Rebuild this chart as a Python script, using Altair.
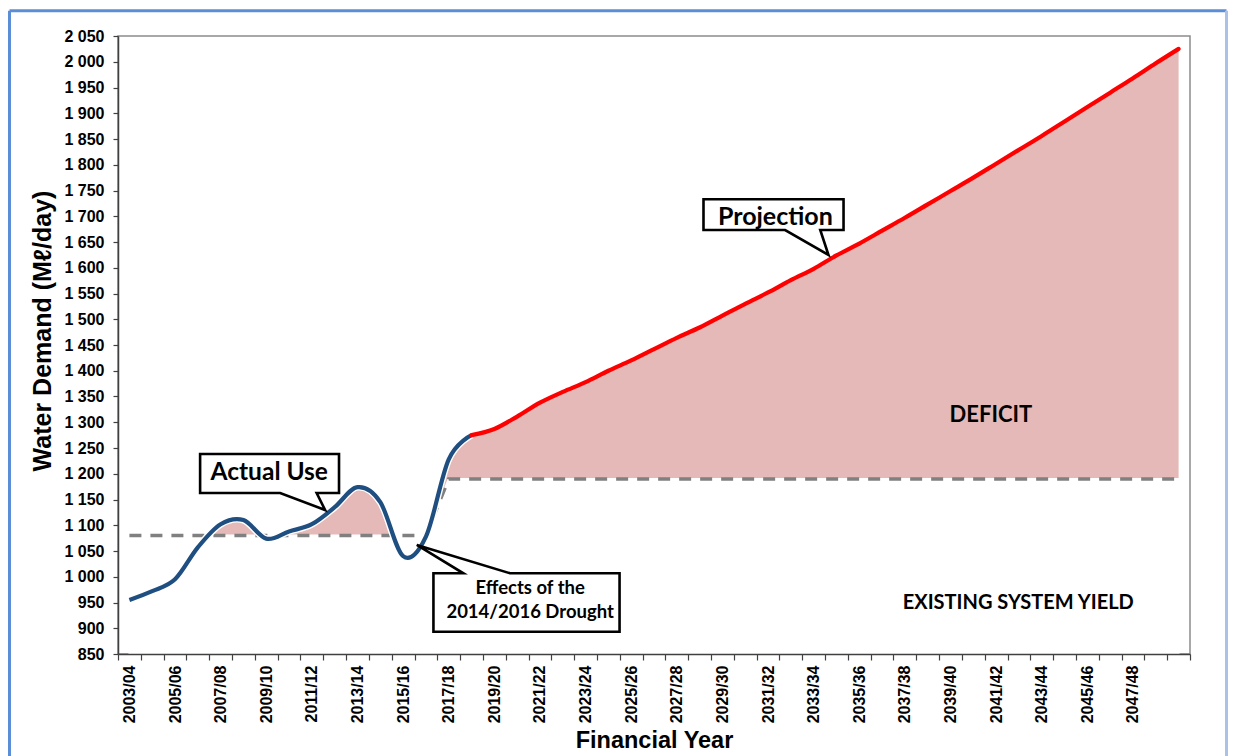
import altair as alt
import pandas as pd

# ---------------- data ----------------
financial_years = [
    "2003/04", "2004/05", "2005/06", "2006/07", "2007/08", "2008/09", "2009/10", "2010/11",
    "2011/12", "2012/13", "2013/14", "2014/15", "2015/16", "2016/17", "2017/18", "2018/19",
    "2019/20", "2020/21", "2021/22", "2022/23", "2023/24", "2024/25", "2025/26", "2026/27",
    "2027/28", "2028/29", "2029/30", "2030/31", "2031/32", "2032/33", "2033/34", "2034/35",
    "2035/36", "2036/37", "2037/38", "2038/39", "2039/40", "2040/41", "2041/42", "2042/43",
    "2043/44", "2044/45", "2045/46", "2046/47", "2047/48", "2048/49", "2049/50",
]
# Actual use 2003/04 .. 2018/19
actual_use = [955, 972, 995, 1057, 1102, 1110, 1074, 1088, 1102, 1135, 1174, 1145,
              1040, 1078, 1228, 1275]
# Projection 2018/19 .. 2049/50
projection = [1275, 1287, 1311, 1338, 1359, 1378, 1400, 1420, 1442, 1464, 1484, 1507,
              1530, 1552, 1576, 1598, 1624, 1647, 1672, 1697, 1723, 1749, 1775, 1802,
              1829, 1856, 1884, 1912, 1940, 1968, 1997, 2025]
# Existing system yield 2003/04 .. 2049/50
system_yield = [1080, 1080, 1080, 1080, 1080, 1080, 1080, 1080, 1080, 1080, 1080, 1080,
                1080, 1080, 1190, 1190, 1190, 1190, 1190, 1190, 1190, 1190, 1190, 1190,
                1190, 1190, 1190, 1190, 1190, 1190, 1190, 1190, 1190, 1190, 1190, 1190,
                1190, 1190, 1190, 1190, 1190, 1190, 1190, 1190, 1190, 1190, 1190]
y_ticks = list(range(850, 2051, 50))

n_actual = len(actual_use)
demand = actual_use[:-1] + projection

actual_df = pd.DataFrame({"x": list(range(n_actual)), "v": actual_use})
proj_df = pd.DataFrame({"x": list(range(n_actual - 1, n_actual - 1 + len(projection))), "v": projection})
demand_df = pd.DataFrame({"x": list(range(len(demand))), "v": demand})
yield_df = pd.DataFrame({"x": list(range(len(system_yield))), "v": system_yield})

# ---------------- annotations (data coordinates) ----------------
callouts = {
    "actual": [(3.10, 1238.3), (9.19, 1238.3), (9.19, 1162.6), (8.21, 1162.6), (8.58, 1129.6),
               (6.61, 1162.6), (3.10, 1162.6), (3.10, 1238.3), (9.19, 1238.3)],
    "projection": [(25.17, 1732.9), (31.31, 1732.9), (31.31, 1673.3), (30.29, 1673.3),
                   (30.65, 1624.8), (28.75, 1673.3), (25.17, 1673.3), (25.17, 1732.9),
                   (31.31, 1732.9)],
    "drought": [(13.33, 1006.7), (14.64, 1006.7), (12.60, 1061.7), (16.69, 1006.7),
                (21.49, 1006.7), (21.49, 893.3), (13.33, 893.3), (13.33, 1006.7),
                (14.64, 1006.7)],
}
boxes = [(3.10, 9.19, 1162.6, 1238.3), (25.17, 31.31, 1673.3, 1732.9), (13.33, 21.49, 893.3, 1006.7)]
labels = [
    ("Actual Use", 6.13, 1201.5, 24.5),
    ("Projection", 28.32, 1698.5, 25),
    ("Effects of the", 17.57, 977.6, 18.5),
    ("2014/2016 Drought", 17.57, 932.1, 18.5),
    ("DEFICIT", 37.77, 1314.0, 22),
    ("EXISTING SYSTEM YIELD", 38.97, 949.6, 20),
]

rows = []
for name, pts in callouts.items():
    for i, (px, pv) in enumerate(pts):
        rows.append({"c": name, "o": i, "x": px, "v": pv})
outline_df = pd.DataFrame(rows)
box_df = pd.DataFrame([{"x": a, "x2": b, "v": c, "v2": d} for a, b, c, d in boxes])
label_df = pd.DataFrame([{"t": t, "x": a, "v": b, "s": s} for t, a, b, s in labels])

# ---------------- scales / axes ----------------
FONT = "Liberation Sans"
label_array = "[" + ",".join("'" + s + "'" for s in financial_years) + "]"
x_values = [i * 0.5 - 0.5 for i in range(2 * len(financial_years) + 1)]

x_scale = alt.Scale(domain=[-0.5, len(financial_years) - 0.5], nice=False, zero=False)
y_scale = alt.Scale(domain=[850, 2050], nice=False, zero=False)

x_axis = alt.Axis(
    values=x_values,
    labelExpr=f"(datum.value % 2 == 0 && datum.value <= 44) ? {label_array}[datum.value] : ''",
    tickOpacity={"expr": "datum.value % 1 == 0 ? 0 : 1"},
    labelAngle=270, labelAlign="right", labelBaseline="middle",
    labelFont=FONT, labelFontSize=16, labelFontWeight="bold", labelColor="black",
    labelPadding=5, tickSize=6, tickColor="#404040", tickWidth=1.2,
    domainColor="#404040", domainWidth=1.5,
    labelOverlap=False, labelFlush=False, labelBound=False,
    title="Financial Year", titleFont=FONT, titleFontSize=23.5, titleFontWeight="bold",
    titleColor="black", titleX=536, titleY=93, titleAnchor=None, titleAlign="center",
    titleBaseline="alphabetic", grid=False, zindex=1,
)
y_axis = alt.Axis(
    values=y_ticks,
    labelExpr="replace(format(datum.value, ','), ',', ' ')",
    labelFont=FONT, labelFontSize=16, labelFontWeight="bold", labelColor="black",
    labelPadding=9, tickSize=5, tickColor="#404040", tickWidth=1.2,
    domainColor="#404040", domainWidth=1.5,
    title="Water Demand (M\u2113/day)", titleFont=FONT, titleFontSize=25,
    titleFontWeight="bold", titleColor="black", titleAngle=270, titleX=-68, titleY=294.5,
    titleAlign="center", titleBaseline="alphabetic", grid=False, zindex=1,
)


def X(field="x"):
    return alt.X(f"{field}:Q", scale=x_scale, axis=x_axis)


def Y(field="v"):
    return alt.Y(f"{field}:Q", scale=y_scale, axis=y_axis)


PINK = "#E4B9B8"
BLUE = "#1F4E80"
RED = "#FF0000"

deficit_area = alt.Chart(demand_df).mark_area(color=PINK, interpolate="cardinal").encode(
    x=X(), y=Y(), y2=alt.datum(850))
below_yield = alt.Chart(yield_df).mark_area(
    color="white", stroke="white", strokeWidth=2, interpolate="linear").encode(
    x=X(), y=Y(), y2=alt.datum(850))
yield_line = alt.Chart(yield_df).mark_line(
    color="#808080", strokeWidth=3.5, strokeDash=[12, 9]).encode(x=X(), y=Y())
actual_halo = alt.Chart(actual_df).mark_line(
    color="white", strokeWidth=7, interpolate="cardinal").encode(x=X(), y=Y())
actual_line = alt.Chart(actual_df).mark_line(
    color=BLUE, strokeWidth=4.2, interpolate="cardinal").encode(x=X(), y=Y())
proj_line = alt.Chart(proj_df).mark_line(
    color=RED, strokeWidth=4.2, interpolate="cardinal", strokeCap="round").encode(x=X(), y=Y())

box_fill = alt.Chart(box_df).mark_rect(color="white").encode(
    x=X(), x2="x2", y=Y(), y2="v2")
outlines = alt.Chart(outline_df).mark_line(
    color="black", strokeWidth=2.6, strokeJoin="miter").encode(
    x=X(), y=Y(), detail="c:N", order="o:Q")
texts = alt.Chart(label_df).mark_text(
    font="Lato", fontWeight="bold", color="black", align="center", baseline="middle").encode(
    x=X(), y=Y(), text="t:N", size=alt.Size("s:Q", scale=None, legend=None))

one = pd.DataFrame({"a": [0]})
frame_left = alt.Chart(one).mark_rule(color="#5B8ED6", strokeWidth=3).encode(
    x=alt.value(-108.5), y=alt.value(-25.3), y2=alt.value(800))
frame_top = alt.Chart(one).mark_rule(color="#5B8ED6", strokeWidth=3).encode(
    x=alt.value(-108.5), x2=alt.value(1108.5), y=alt.value(-25.3))
frame_right = alt.Chart(one).mark_rule(color="#A9C2E6", strokeWidth=3).encode(
    x=alt.value(1108.5), y=alt.value(-25.3), y2=alt.value(800))

chart = alt.layer(
    deficit_area, below_yield, yield_line, actual_halo, actual_line, proj_line,
    box_fill, outlines, texts, frame_left, frame_top, frame_right,
).properties(
    width=1072, height=618,
    padding={"left": 110, "top": 28, "right": 38, "bottom": 102},
    autosize=alt.AutoSizeParams(type="none"),
    background="white",
).configure_view(stroke="#8C8C8C", strokeWidth=1.5)

chart.save("out.html", embed_options={"renderer": "svg", "actions": False})
